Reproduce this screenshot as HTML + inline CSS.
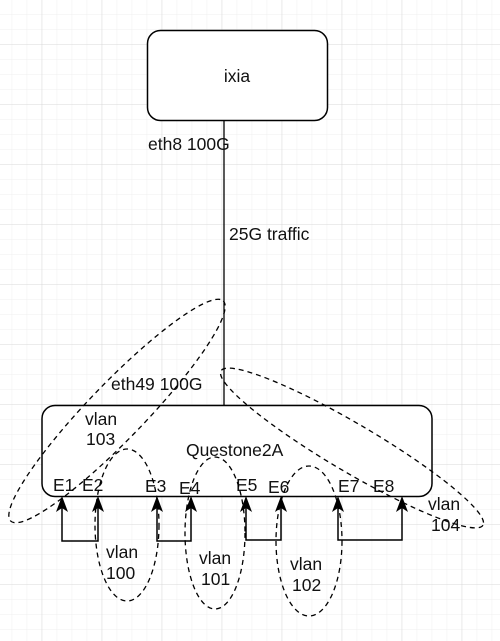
<!DOCTYPE html>
<html><head><meta charset="utf-8"><style>
html,body{margin:0;padding:0;background:#fff;}
svg{display:block;font-family:"Liberation Sans",Arial,sans-serif;}
</style></head><body>
<svg width="500" height="641" xmlns="http://www.w3.org/2000/svg">
<defs>
<pattern id="minor" x="11.7" y="14" width="15" height="15" patternUnits="userSpaceOnUse">
<path d="M0 0H15M0 0V15" stroke="#efefef" stroke-width="1" fill="none"/>
</pattern>
<pattern id="major" x="41.7" y="44" width="60" height="60" patternUnits="userSpaceOnUse">
<path d="M0 0H60M0 0V60" stroke="#d9d9d9" stroke-width="1" fill="none"/>
</pattern>
</defs>
<rect width="500" height="641" fill="url(#minor)"/>
<rect width="500" height="641" fill="url(#major)"/>

<rect x="147.5" y="30.5" width="180" height="90" rx="13" fill="#fff" stroke="#000" stroke-width="1.5"/>
<g font-size="17.5" fill="#111">
<text x="237" y="82" text-anchor="middle">ixia</text>
</g>
<line x1="224" y1="120" x2="224" y2="405" stroke="#000" stroke-width="1.3"/>
<g font-size="17.5" fill="#111">
<text x="148" y="150">eth8 100G</text>
<text x="229" y="240">25G traffic</text>
</g>

<rect x="42" y="405.5" width="390" height="91" rx="13" fill="#fff" stroke="#000" stroke-width="1.5"/>
<g font-size="17.5" fill="#111">
<text x="111" y="390">eth49 100G</text>
<text x="85" y="425">vlan</text>
<text x="86" y="445">103</text>
<text x="186" y="456">Questone2A</text>
<text x="53" y="491">E1</text><text x="82" y="491">E2</text>
<text x="145" y="492">E3</text><text x="179" y="494">E4</text>
<text x="236" y="491">E5</text><text x="268" y="493">E6</text>
<text x="338" y="492">E7</text><text x="373" y="492">E8</text>
</g>

<g fill="none" stroke="#000" stroke-width="1.5">
<path d="M62 505V541H98V505"/>
<path d="M157 505V541H191V505"/>
<path d="M246 505V540H281V505"/>
<path d="M338 505V540H402V505"/>
</g>
<g fill="#000">
<path d="M62 496l-6 16 6-4 6 4z"/><path d="M98 496l-6 16 6-4 6 4z"/>
<path d="M157 496l-6 16 6-4 6 4z"/><path d="M191 496l-6 16 6-4 6 4z"/>
<path d="M246 496l-6 16 6-4 6 4z"/><path d="M281 496l-6 16 6-4 6 4z"/>
<path d="M338 496l-6 16 6-4 6 4z"/><path d="M402 496l-6 16 6-4 6 4z"/>
</g>

<g fill="none" stroke="#000" stroke-width="1.3" stroke-dasharray="5,4">
<ellipse cx="117" cy="411" rx="153" ry="28" transform="rotate(-46 117 411)"/>
<ellipse cx="352" cy="448" rx="152" ry="24" transform="rotate(30.5 352 448)"/>
<ellipse cx="127" cy="525" rx="32" ry="76"/>
<ellipse cx="215" cy="533" rx="30" ry="76"/>
<ellipse cx="309" cy="541" rx="33" ry="75"/>
</g>

<g font-size="17.5" fill="#111">
<text x="106" y="558">vlan</text><text x="106" y="579">100</text>
<text x="199" y="564">vlan</text><text x="201" y="585">101</text>
<text x="290" y="570">vlan</text><text x="292" y="591">102</text>
<text x="428" y="510">vlan</text><text x="431" y="531">104</text>
</g>
</svg>
</body></html>
